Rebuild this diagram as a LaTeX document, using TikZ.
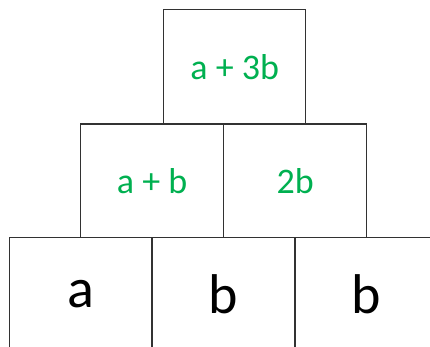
\documentclass[tikz,border=0pt]{standalone}
\usepackage{fontspec}
\setmainfont{Carlito}
\definecolor{sumgreen}{RGB}{0,176,80}
\definecolor{edgegray}{RGB}{50,50,50}
\begin{document}
\begin{tikzpicture}[x=1pt,y=1pt,
  cell/.style={draw=edgegray, line width=1.1pt, minimum width=143pt,
    minimum height=113.5pt, inner sep=0pt, outer sep=0pt, anchor=center},
  sumcell/.style={cell, text=sumgreen, font=\fontsize{36}{42}\selectfont},
  basecell/.style={cell, text=black, font=\fontsize{56}{64}\selectfont}]
\useasboundingbox (0,0) rectangle (430,347);
\clip (0,0) rectangle (430,347);
% bottom row (runs past the right and lower edges)
\node[basecell] (b1) at (81,52.75) {a};
\node[basecell] (b2) at (223.5,52.75) {b};
\node[basecell] (b3) at (366.2,52.75) {b};
% middle row
\node[sumcell] (m1) at (152.1,166.25) {a + b};
\node[sumcell] (m2) at (295.3,166.25) {2b};
% top
\node[sumcell, minimum width=142pt, minimum height=114.3pt] (t1) at (234.7,280.15) {a + 3b};
\end{tikzpicture}
\end{document}
